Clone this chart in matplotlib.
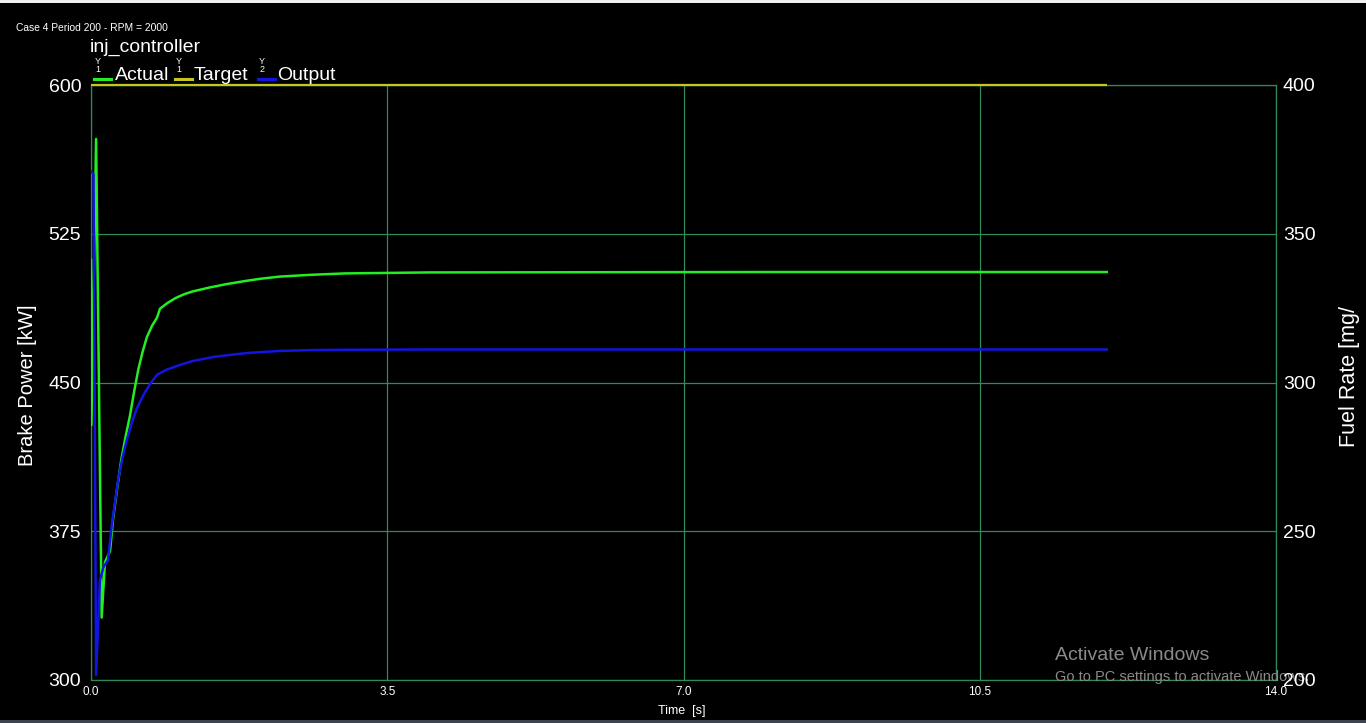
import matplotlib
matplotlib.use("Agg")
import matplotlib.pyplot as plt
from matplotlib.lines import Line2D
from matplotlib.patches import Rectangle

# ---- data ----
actual_t = [0.0, 0.005, 0.06, 0.126, 0.165, 0.225, 0.26, 0.31, 0.36, 0.41, 0.46, 0.51, 0.56,
            0.61, 0.66, 0.72, 0.78, 0.815, 0.9, 1.0, 1.1, 1.2, 1.4, 1.6, 1.84, 2.0, 2.23,
            2.6, 3.0, 4.0, 6.0, 8.0, 10.0, 12.0]
actual_kw = [511.8, 428.5, 572.8, 331.5, 359.4, 365.0, 381.0, 397.0, 411.6, 423.0, 433.2,
             445.5, 456.8, 465.5, 472.9, 478.5, 482.7, 487.2, 490.0, 492.6, 494.5, 495.9,
             497.9, 499.6, 501.3, 502.3, 503.4, 504.3, 505.0, 505.5, 505.6, 505.7, 505.7, 505.7]

target_t = [0.0, 12.0]
target_kw = [600.0, 600.0]

output_t = [0.0, 0.03, 0.06, 0.106, 0.145, 0.2, 0.245, 0.32, 0.37, 0.42, 0.48, 0.54, 0.62,
            0.70, 0.78, 0.9, 1.05, 1.2, 1.45, 1.65, 1.84, 2.0, 2.23, 2.6, 3.0, 4.0, 6.0,
            8.0, 10.0, 12.0]
output_fuel = [371.0, 370.0, 201.7, 233.6, 237.8, 240.3, 251.8, 267.2, 274.5, 280.4, 286.2,
               291.2, 295.8, 299.6, 302.6, 304.4, 305.9, 307.2, 308.6, 309.3, 309.9, 310.2,
               310.6, 310.9, 311.0, 311.1, 311.1, 311.1, 311.1, 311.1]

x_ticks = [0.0, 3.5, 7.0, 10.5, 14.0]
left_ticks = [300, 375, 450, 525, 600]
right_ticks = [200, 250, 300, 350, 400]

W, H = 1366, 723
GREEN = "#22ee22"
YELLOW = "#c8c420"
BLUE = "#1414e0"
GRID = "#2e8b57"

plt.rcParams['font.family'] = ['Liberation Sans', 'DejaVu Sans']
fig = plt.figure(figsize=(W / 100, H / 100), dpi=100, facecolor="black")

def fx(x):
    return x / W

def fy(y):
    return 1 - y / H

L, R, T, B = 91, 1276, 85, 680
ax = fig.add_axes([fx(L), fy(B), (R - L) / W, (B - T) / H], facecolor="black")
ax2 = ax.twinx()
ax.set_zorder(1)
ax2.set_zorder(4)
ax2.patch.set_visible(False)

ax.set_xlim(0, 14.0)
ax.set_ylim(300, 600)
ax2.set_ylim(200, 400)

ax.set_xticks(x_ticks)
ax.set_xticklabels([f"{v:.1f}" for v in x_ticks], fontsize=8.5, color="white")
ax.set_yticks(left_ticks)
ax.set_yticklabels([str(v) for v in left_ticks], fontsize=14, color="white")
ax2.set_yticks(right_ticks)
ax2.set_yticklabels([str(v) for v in right_ticks], fontsize=14, color="white")

ax.tick_params(axis="x", length=0, pad=4)
ax.tick_params(axis="y", length=0, pad=7)
ax2.tick_params(axis="y", length=0, pad=5)

ax.grid(True, color=GRID, linewidth=0.9)
for s in ax.spines.values():
    s.set_color(GRID)
    s.set_linewidth(0.9)
for s in ax2.spines.values():
    s.set_visible(False)

ax.plot(target_t, target_kw, color=YELLOW, linewidth=1.6, zorder=3, clip_on=False,
        solid_capstyle="butt")
ax.plot(actual_t, actual_kw, color=GREEN, linewidth=1.8, zorder=4)
ax2.plot(output_t, output_fuel, color=BLUE, linewidth=1.8, zorder=4)

# axis labels
fig.text(fx(28), fy(385), "Brake Power [kW]", rotation=90, color="white",
         fontsize=14.5, ha="center", va="center")
fig.text(fx(1350), fy(376), "Fuel Rate [mg/", rotation=90, color="white",
         fontsize=15.5, ha="center", va="center")
fig.text(fx(682), fy(711), "Time  [s]", color="white", fontsize=9,
         ha="center", va="center")

# titles
fig.text(fx(16), fy(28), "Case 4 Period 200 - RPM = 2000", color="white",
         fontsize=7.4, ha="left", va="center")
fig.text(fx(90), fy(47), "inj_controller", color="white", fontsize=14,
         ha="left", va="center")

# legend (Y1/Y2 markers)
legend_items = [("Actual", GREEN, "1", 94, 115), ("Target", YELLOW, "1", 175, 194),
                ("Output", BLUE, "2", 258, 277)]
for label, col, ax_id, x0, xt in legend_items:
    fig.add_artist(Line2D([fx(x0), fx(x0 + 17)], [fy(79), fy(79)], color=col,
                          linewidth=2.2, transform=fig.transFigure))
    fig.text(fx(x0 + 4), fy(61), "Y", color="white", fontsize=6.5, ha="center", va="center")
    fig.text(fx(x0 + 4), fy(69), ax_id, color="white", fontsize=6.5, ha="center", va="center")
    fig.text(fx(xt), fy(75), label, color="white", fontsize=14, ha="left", va="center")

# windows watermark (drawn over the plot area, under the right axis labels)
fig.text(fx(1055), fy(655), "Activate Windows", color="#8a8a8a", fontsize=14,
         ha="left", va="center", zorder=3)
fig.text(fx(1055), fy(677), "Go to PC settings to activate Windows.", color="#8a8a8a",
         fontsize=10.5, ha="left", va="center", zorder=3)

# screen frame strips
fig.add_artist(Rectangle((0, fy(3)), 1, 3 / H, transform=fig.transFigure,
                         facecolor="#f0f0f0", edgecolor="none", zorder=5))
fig.add_artist(Rectangle((0, 0), 1, 3 / H, transform=fig.transFigure,
                         facecolor="#3c4450", edgecolor="none", zorder=5))

fig.savefig("out.png", dpi=100, facecolor="black")
